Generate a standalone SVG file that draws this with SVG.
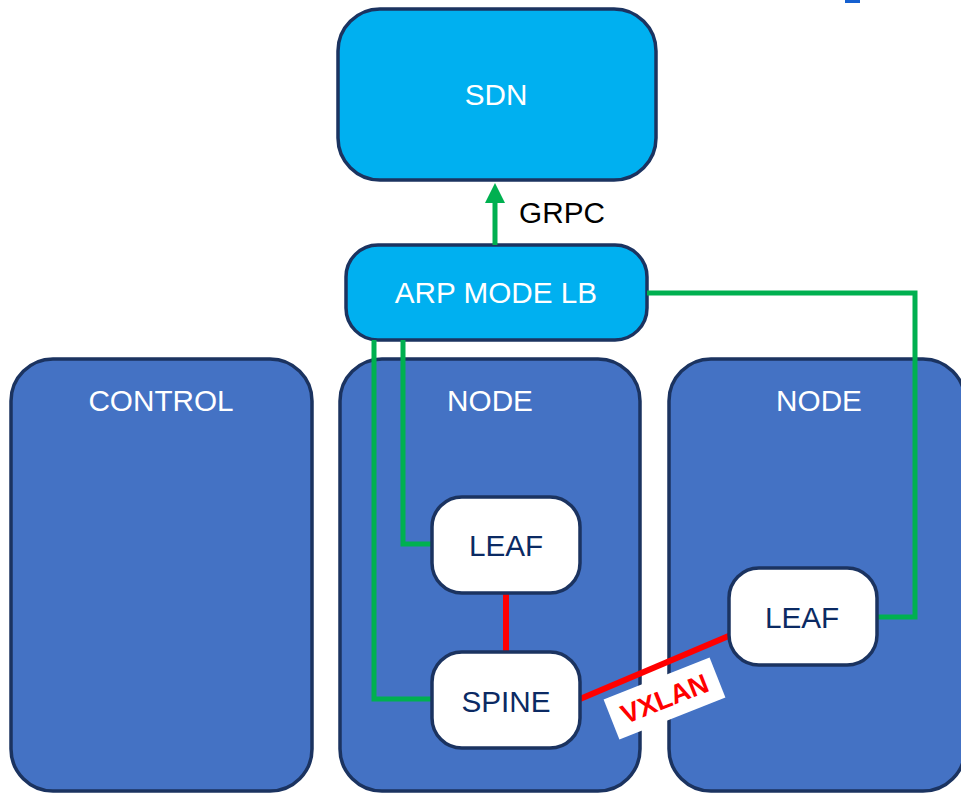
<svg xmlns="http://www.w3.org/2000/svg" width="961" height="794" viewBox="0 0 961 794">
<style>
.t{font-family:"Liberation Sans",Arial,sans-serif;font-size:29.7px;text-anchor:middle}
.w{fill:#ffffff}
.d{fill:#0B2A63}
.top{fill:#00B0F0;stroke:#1B3360;stroke-width:3.5}
.col{fill:#4472C4;stroke:#1B3360;stroke-width:3.5}
.in{fill:#ffffff;stroke:#1B3360;stroke-width:3.5}
.g{fill:none;stroke:#00B050;stroke-width:5}
.r{fill:none;stroke:#FF0000;stroke-width:6}
</style>
<defs>
<marker id="ah" markerWidth="4" markerHeight="4" refX="1" refY="2" orient="auto" markerUnits="strokeWidth">
<path d="M0,0 L4,2 L0,4 Z" fill="#00B050"/>
</marker>
</defs>
<rect x="845" y="-4" width="15" height="7" fill="#1560D0"/>
<g id="control"><rect class="col" x="11" y="359" width="301" height="432" rx="42"/><text class="t w" x="161" y="411">CONTROL</text></g>
<g id="node1"><rect class="col" x="340" y="359" width="300" height="432" rx="42"/><text class="t w" x="490" y="411">NODE</text></g>
<g id="node2"><rect class="col" x="669" y="359" width="296" height="432" rx="42"/><text class="t w" x="819" y="411">NODE</text></g>
<g id="sdn"><rect class="top" x="338" y="9" width="318" height="171" rx="42"/><text class="t w" x="496" y="105">SDN</text></g>
<g id="arp"><rect class="top" x="346" y="245" width="301" height="95" rx="32"/><text class="t w" x="496" y="303">ARP MODE LB</text></g>
<g id="connectors">
<line class="g" x1="495" y1="245" x2="495" y2="198" marker-end="url(#ah)"/>
<polyline class="g" points="647,293 915,293 915,617 877,617"/>
<polyline class="g" points="374,340 374,699 432,699"/>
<polyline class="g" points="403,340 403,544 432,544"/>
<line class="r" x1="506" y1="594" x2="506" y2="652"/>
<line class="r" x1="580" y1="699" x2="731" y2="635"/>
</g>
<g id="leaf1"><rect class="in" x="432" y="497" width="148" height="96" rx="30"/><text class="t d" x="506" y="556">LEAF</text></g>
<g id="spine"><rect class="in" x="432" y="652" width="148" height="96" rx="30"/><text class="t d" x="506" y="712">SPINE</text></g>
<g id="leaf2"><rect class="in" x="729" y="568" width="148" height="97" rx="30"/><text class="t d" x="802" y="628">LEAF</text></g>
<text class="t" x="562" y="223" fill="#000000">GRPC</text>
<g id="vxlan" transform="translate(664.5,698.5) rotate(-21.6)">
<rect x="-57" y="-21.5" width="114" height="43" fill="#ffffff"/>
<text x="0" y="9.5" font-family="Liberation Sans,Arial,sans-serif" font-size="27" font-weight="bold" fill="#FF0000" text-anchor="middle">VXLAN</text>
</g>
</svg>
